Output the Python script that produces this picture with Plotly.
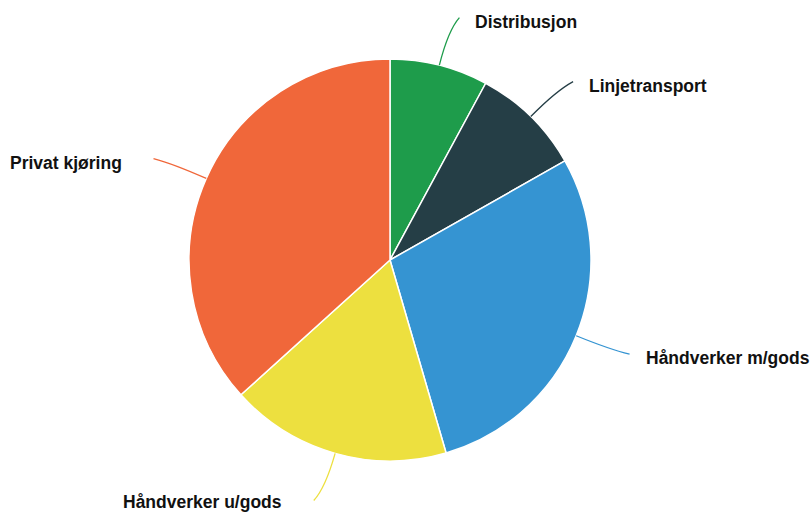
import math
import plotly.graph_objects as go

# Share of driving per segment (percent)
categories = ["Distribusjon", "Linjetransport", "Håndverker m/gods",
              "Håndverker u/gods", "Privat kjøring"]
shares = [7.9, 8.9, 28.7, 17.8, 36.7]
colors = ["#1e9c4b", "#253e46", "#3594d2", "#ede03f", "#f0673a"]

W, H = 811, 513
CX, CY, R = 390, 260, 201          # pie centre and radius in pixels
LABEL_R = 250                       # where the connector ends
GAP_RIGHT, GAP_LEFT = 14, 30
TEXT_DROP = 4                       # label sits a little below the connector end
FONT_SIZE = 17.5

def px(x):
    return x / W

def py(y):
    return 1 - y / H

fig = go.Figure(go.Pie(
    labels=categories,
    values=shares,
    sort=False,
    direction="clockwise",
    rotation=0,
    textinfo="none",
    hoverinfo="label+percent",
    marker=dict(colors=colors, line=dict(color="white", width=1.5)),
    domain=dict(x=[px(CX - R), px(CX + R)], y=[py(CY + R), py(CY - R)]),
    showlegend=False,
))

shapes, annotations = [], []
total = sum(shares)
cum = 0.0
for name, val, col in zip(categories, shares, colors):
    mid = (cum + val / 2) / total * 2 * math.pi
    cum += val
    sx, sy = math.sin(mid), -math.cos(mid)
    x0, y0 = CX + R * sx, CY + R * sy
    cx, cy = CX + (R + 36) * sx, CY + (R + 36) * sy
    right = sx >= 0
    ex = CX + LABEL_R * sx + (8 if right else -8)
    ey = CY + LABEL_R * sy
    shapes.append(dict(
        type="path", xref="paper", yref="paper",
        path=f"M {px(x0)},{py(y0)} Q {px(cx)},{py(cy)} {px(ex)},{py(ey)}",
        line=dict(color=col, width=1.3),
    ))
    tx = ex + GAP_RIGHT if right else ex - GAP_LEFT
    # keep the label inside the canvas
    ty = min(ey + TEXT_DROP, H - FONT_SIZE * 0.65)
    annotations.append(dict(
        x=px(tx), y=py(ty), xref="paper", yref="paper",
        text=f"<b>{name}</b>", showarrow=False,
        xanchor="left" if right else "right", yanchor="middle",
        font=dict(family="Liberation Sans, Arial, sans-serif", size=FONT_SIZE, color="#111111"),
    ))

fig.update_layout(
    width=W, height=H,
    margin=dict(l=0, r=0, t=0, b=0),
    paper_bgcolor="white", plot_bgcolor="white",
    shapes=shapes, annotations=annotations,
)

fig.write_html("out.html")
